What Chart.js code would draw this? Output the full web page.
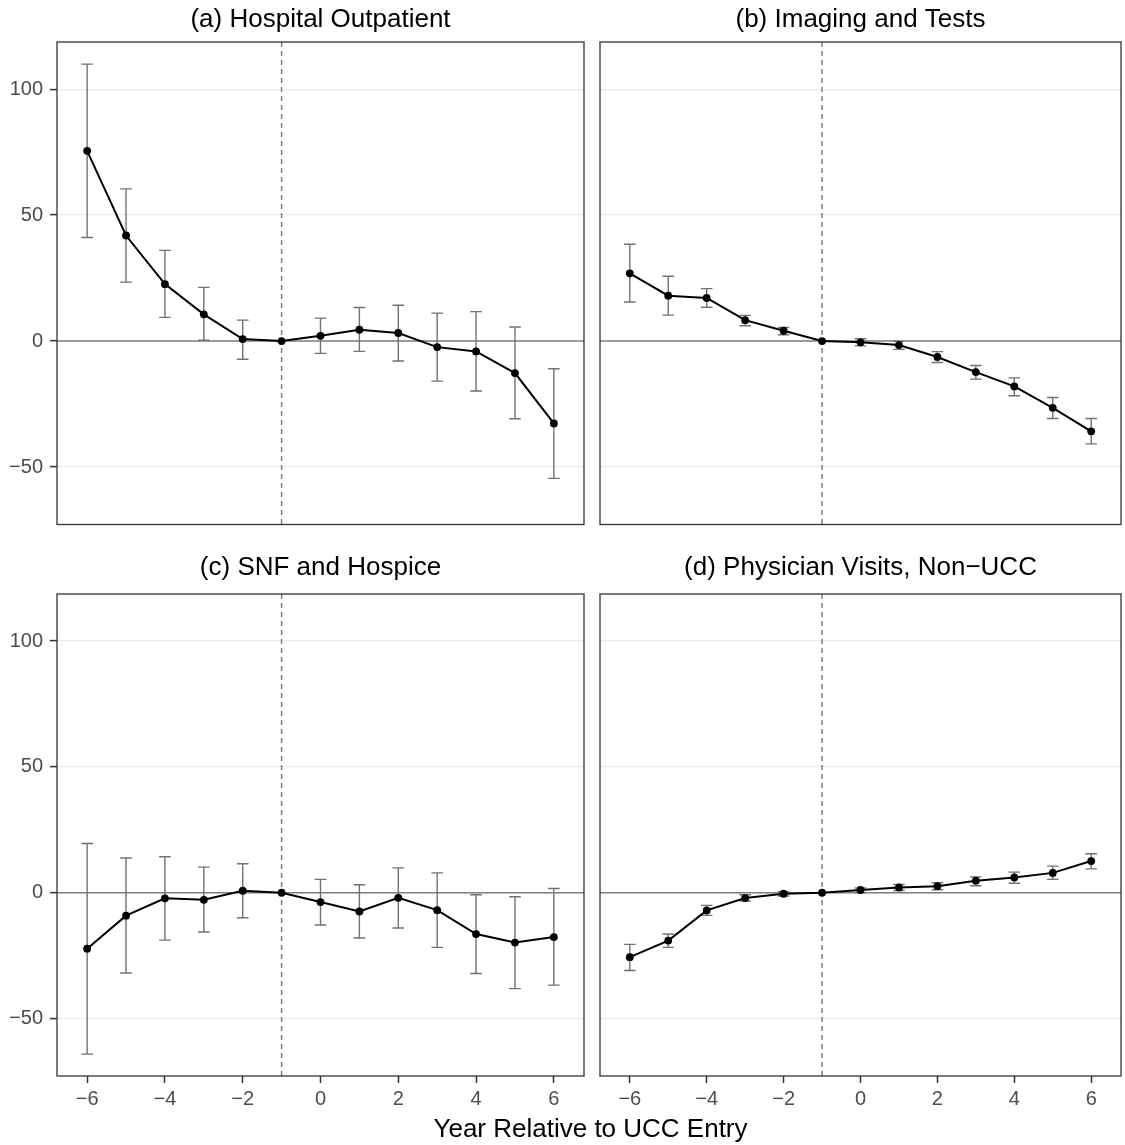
<!DOCTYPE html>
<html>
<head>
<meta charset="utf-8">
<script src="https://cdn.jsdelivr.net/npm/chart.js@4.4.1/dist/chart.umd.min.js"></script>
<style>
  body { margin: 0; background: #fff; }
  #wrap { position: relative; width: 1125px; height: 1145px; background: #fff; }
  canvas { position: absolute; }
  #xtitle {
    position: absolute; left: 57px; width: 1067px; top: 1113px;
    text-align: center; font: 26px "Liberation Sans", Arial, sans-serif;
    line-height: 30px; color: #000;
  }
</style>
</head>
<body>
<div id="wrap">
  <canvas id="pa" width="590" height="530" style="left:0;top:0"></canvas>
  <canvas id="pb" width="535" height="530" style="left:590px;top:0"></canvas>
  <canvas id="pc" width="590" height="595" style="left:0;top:550px"></canvas>
  <canvas id="pd" width="535" height="595" style="left:590px;top:550px"></canvas>
  <div id="xtitle">Year Relative to UCC Entry</div>
</div>
<script>
// years relative to entry and axis ticks
var years = [-6, -5, -4, -3, -2, -1, 0, 1, 2, 3, 4, 5, 6];
var xTicks = [-6, -4, -2, 0, 2, 4, 6];
var yTicks = [-50, 0, 50, 100];
var refYear = -1;

// (a) Hospital Outpatient
var estA = [75.5, 41.9, 22.6, 10.6, 0.8, 0, 2.1, 4.5, 3.2, -2.4, -4.1, -12.7, -32.7];
var loA  = [41.1, 23.4, 9.4, 0.3, -7.2, null, -4.9, -4.1, -7.9, -15.9, -19.8, -30.8, -54.5];
var hiA  = [109.9, 60.4, 36.0, 21.3, 8.3, null, 9.1, 13.3, 14.2, 11.1, 11.7, 5.6, -11.0];

// (b) Imaging and Tests
var estB = [26.9, 18.0, 17.1, 8.3, 4.1, 0, -0.5, -1.6, -6.3, -12.3, -18.0, -26.5, -35.8];
var loB  = [15.5, 10.3, 13.4, 6.1, 2.5, null, -1.9, -3.3, -8.5, -15.1, -21.7, -30.7, -40.8];
var hiB  = [38.4, 25.7, 20.8, 10.2, 5.4, null, 0.9, -0.1, -4.2, -9.7, -14.6, -22.4, -30.7];

// (c) SNF and Hospice
var estC = [-22.2, -9.1, -2.2, -2.8, 0.8, 0, -3.7, -7.4, -2.0, -6.9, -16.4, -19.8, -17.6];
var loC  = [-64.1, -31.9, -18.8, -15.6, -9.9, null, -12.8, -18.0, -14.0, -21.7, -32.1, -38.1, -36.7];
var hiC  = [19.6, 13.8, 14.3, 10.2, 11.5, null, 5.3, 3.2, 9.9, 7.9, -0.8, -1.6, 1.7];

// (d) Physician Visits, Non-UCC
var estD = [-25.6, -19.0, -7.0, -2.1, -0.4, 0, 1.1, 2.1, 2.6, 4.8, 6.1, 7.9, 12.6];
var loD  = [-30.9, -21.7, -9.0, -3.3, -1.3, null, 0.1, 0.9, 1.2, 2.8, 3.8, 5.3, 9.5];
var hiD  = [-20.5, -16.4, -5.0, -0.8, 0.4, null, 1.9, 3.3, 4.0, 6.3, 8.2, 10.6, 15.5];

var FONT = '"Liberation Sans", Arial, sans-serif';
var xMin = -6.775, xMax = 6.775, yMin = -72.8, yMax = 118.7;

// zero line, dashed reference line, error bars, panel border
var panelDecor = {
    id: 'panelDecor',
    beforeDatasetsDraw: function (chart) {
        var ctx = chart.ctx, a = chart.chartArea;
        var xs = chart.scales.x, ys = chart.scales.y;
        var o = chart.options.plugins.panelDecor;
        ctx.save();
        ctx.beginPath();
        ctx.rect(a.left, a.top, a.right - a.left, a.bottom - a.top);
        ctx.clip();
        var y0 = ys.getPixelForValue(0);
        ctx.strokeStyle = '#7f7f7f';
        ctx.lineWidth = 1.5;
        ctx.beginPath();
        ctx.moveTo(a.left, y0);
        ctx.lineTo(a.right, y0);
        ctx.stroke();
        var xr = xs.getPixelForValue(refYear);
        ctx.setLineDash([5, 4]);
        ctx.lineWidth = 1.5;
        ctx.beginPath();
        ctx.moveTo(xr, a.top);
        ctx.lineTo(xr, a.bottom);
        ctx.stroke();
        ctx.setLineDash([]);
        ctx.strokeStyle = '#727272';
        ctx.lineWidth = 1.4;
        for (var i = 0; i < years.length; i++) {
            if (o.lo[i] === null) continue;
            var x = xs.getPixelForValue(years[i]);
            var half = xs.getPixelForValue(years[i] + 0.15) - x;
            var yl = ys.getPixelForValue(o.lo[i]);
            var yh = ys.getPixelForValue(o.hi[i]);
            ctx.beginPath();
            ctx.moveTo(x, yl); ctx.lineTo(x, yh);
            ctx.moveTo(x - half, yl); ctx.lineTo(x + half, yl);
            ctx.moveTo(x - half, yh); ctx.lineTo(x + half, yh);
            ctx.stroke();
        }
        ctx.restore();
    },
    afterDraw: function (chart) {
        var ctx = chart.ctx, a = chart.chartArea;
        ctx.save();
        ctx.strokeStyle = '#333333';
        ctx.lineWidth = 1.3;
        ctx.strokeRect(a.left, a.top, a.right - a.left, a.bottom - a.top);
        ctx.restore();
    }
};

function minus(v) {
    return String(v).replace('-', '\u2212');
}

function makePanel(id, title, est, lo, hi, opt) {
    var pts = years.map(function (yr, i) { return { x: yr, y: est[i] }; });
    return new Chart(document.getElementById(id), {
        type: 'line',
        data: {
            datasets: [{
                data: pts,
                borderColor: '#000',
                borderWidth: 2,
                pointRadius: 3.9,
                pointBackgroundColor: '#000',
                pointBorderWidth: 0,
                tension: 0
            }]
        },
        options: {
            responsive: false,
            animation: false,
            layout: { padding: { left: 0, right: opt.padRight, top: 0, bottom: 0 } },
            plugins: {
                legend: { display: false },
                tooltip: { enabled: false },
                title: {
                    display: true,
                    text: title,
                    fullSize: false,
                    color: '#000',
                    font: { family: FONT, size: 26, weight: 'normal', lineHeight: 1.2 },
                    padding: { top: opt.titleTop, bottom: opt.titleBottom }
                },
                panelDecor: { lo: lo, hi: hi }
            },
            scales: {
                x: {
                    type: 'linear',
                    min: xMin,
                    max: xMax,
                    afterBuildTicks: function (s) { s.ticks = xTicks.map(function (v) { return { value: v }; }); },
                    afterFit: function (s) {
                        s.height = opt.xHeight;
                        s.paddingLeft = 0; s.paddingRight = 0;
                    },
                    border: { display: false },
                    grid: {
                        display: opt.showX,
                        drawOnChartArea: false,
                        drawTicks: opt.showX,
                        tickLength: 7,
                        tickColor: '#333333',
                        tickWidth: 1.5
                    },
                    ticks: {
                        display: opt.showX,
                        padding: 4,
                        color: '#4d4d4d',
                        font: { family: FONT, size: 20 },
                        maxRotation: 0,
                        callback: minus
                    }
                },
                y: {
                    type: 'linear',
                    min: yMin,
                    max: yMax,
                    afterBuildTicks: function (s) { s.ticks = yTicks.map(function (v) { return { value: v }; }); },
                    afterFit: function (s) {
                        s.width = opt.yWidth;
                        s.paddingTop = 0; s.paddingBottom = 0;
                    },
                    border: { display: false },
                    grid: {
                        color: '#ebebeb',
                        lineWidth: 1.2,
                        drawTicks: opt.showY,
                        tickLength: 7,
                        tickColor: '#333333',
                        tickWidth: 1.5
                    },
                    ticks: {
                        display: opt.showY,
                        padding: 7,
                        color: '#4d4d4d',
                        font: { family: FONT, size: 20 },
                        callback: minus
                    }
                }
            }
        },
        plugins: [panelDecor]
    });
}

var topL = { padRight: 6, titleTop: 4, titleBottom: 6.8, xHeight: 5.5, yWidth: 57, showX: false, showY: true };
var topR = { padRight: 1, titleTop: 4, titleBottom: 6.8, xHeight: 5.5, yWidth: 10, showX: false, showY: false };
var botL = { padRight: 6, titleTop: 2.4, titleBottom: 10.4, xHeight: 69, yWidth: 57, showX: true, showY: true };
var botR = { padRight: 1, titleTop: 2.4, titleBottom: 10.4, xHeight: 69, yWidth: 10, showX: true, showY: false };

makePanel('pa', '(a) Hospital Outpatient', estA, loA, hiA, topL);
makePanel('pb', '(b) Imaging and Tests', estB, loB, hiB, topR);
makePanel('pc', '(c) SNF and Hospice', estC, loC, hiC, botL);
makePanel('pd', '(d) Physician Visits, Non\u2212UCC', estD, loD, hiD, botR);
</script>
</body>
</html>
